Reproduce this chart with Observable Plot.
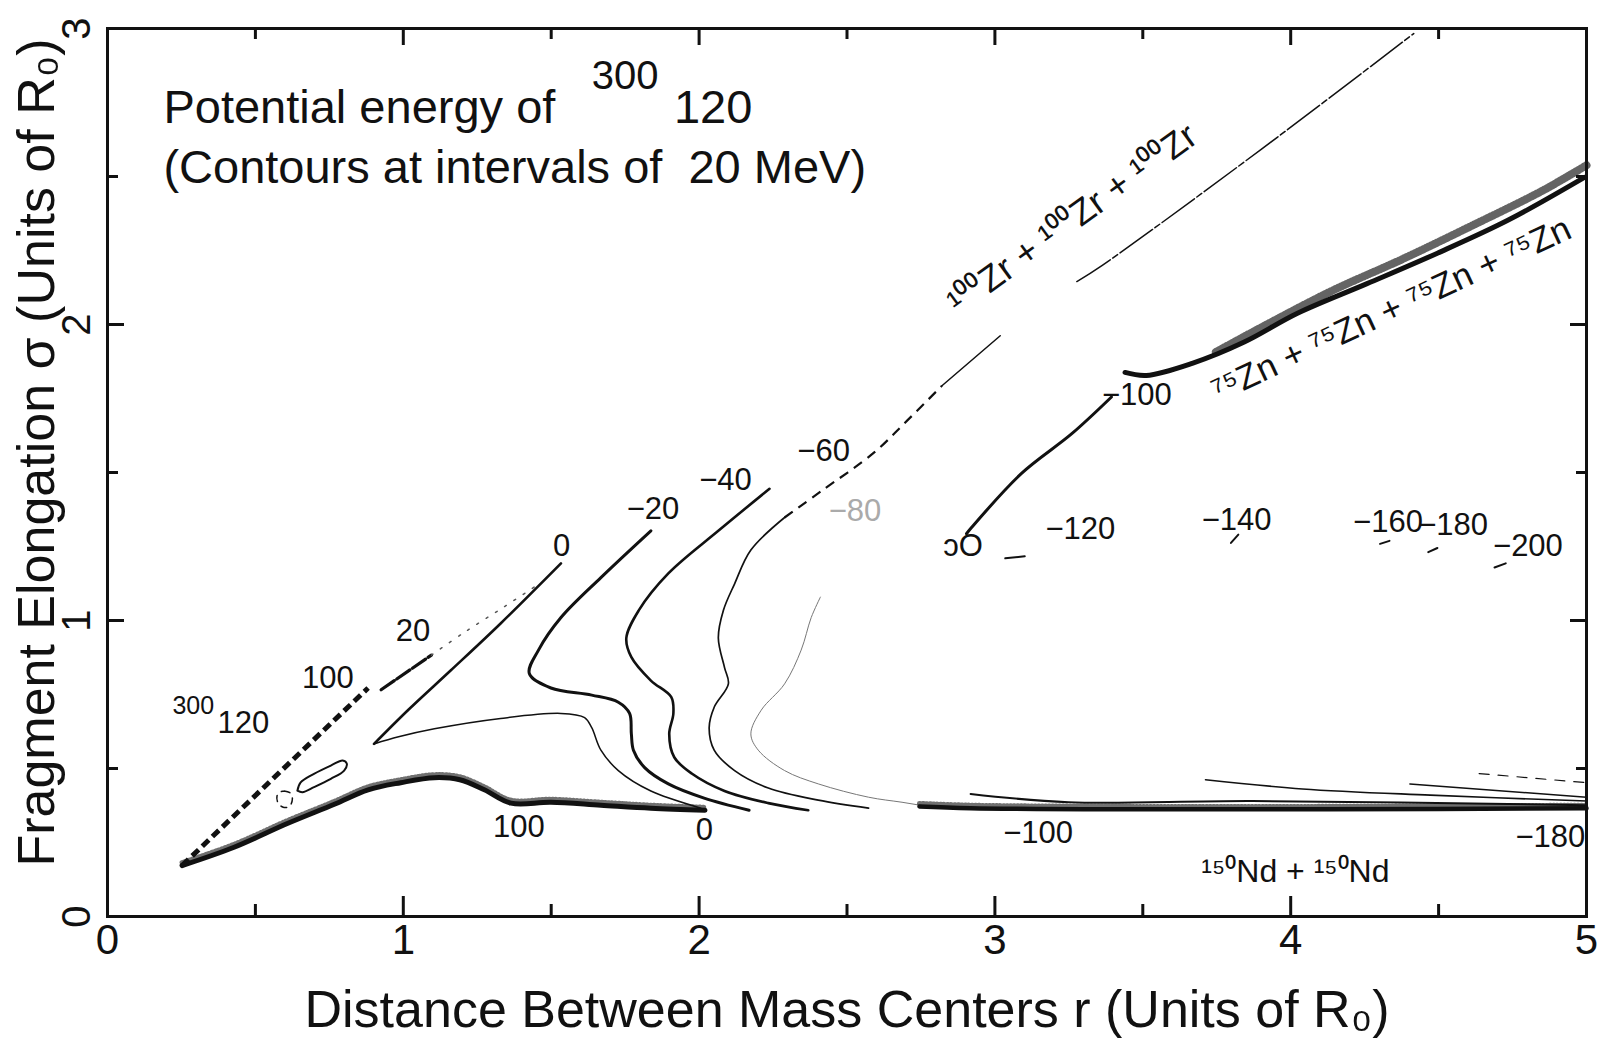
<!DOCTYPE html>
<html>
<head>
<meta charset="utf-8">
<script src="https://cdn.jsdelivr.net/npm/d3@7"></script>
<script src="https://cdn.jsdelivr.net/npm/@observablehq/plot@0.6"></script>
<style>
html, body { margin: 0; padding: 0; background: #fff; }
#chart svg { display: block; }
</style>
</head>
<body>
<div id="chart"></div>
<script>
// ---- axes ----
const xMajorTicks = [0, 1, 2, 3, 4, 5];
const xMinorTicks = [0.5, 1.5, 2.5, 3.5, 4.5];
const yMajorTicks = [0, 1, 2, 3];
const yMinorTicks = [0.5, 1.5, 2.5];
const xTitle = "Distance Between Mass Centers r (Units of R\u2080)";
const yTitle = "Fragment Elongation \u03c3 (Units of R\u2080)";

// ---- contour lines, [r, sigma] ----
const boundaryLower = [[0.252,0.172],[0.428,0.234],[0.608,0.314],[0.767,0.379],[0.881,0.428],[0.991,0.452],[1.105,0.469],[1.191,0.462],[1.274,0.428],[1.364,0.383],[1.499,0.386],[1.668,0.376],[1.837,0.366],[2.020,0.359]];
const contour100Dashed = [[0.252,0.172],[0.566,0.472],[0.881,0.772]];
const contour20 = [[0.925,0.766],[1.095,0.883]];
const contour20Faint = [[1.095,0.883],[1.205,0.959],[1.339,1.045],[1.464,1.127]];
const innerLoop = [[0.642,0.425],[0.653,0.453],[0.698,0.482],[0.755,0.510],[0.795,0.527],[0.809,0.516],[0.800,0.493],[0.755,0.465],[0.698,0.437],[0.659,0.420],[0.642,0.425]];
const smallLoop = [[0.597,0.424],[0.618,0.417],[0.625,0.397],[0.615,0.372],[0.594,0.369],[0.577,0.383],[0.573,0.407],[0.584,0.421],[0.597,0.424]];
const contour0Upper = [[1.533,1.193],[1.329,0.990],[1.160,0.831],[1.019,0.700],[0.901,0.583]];
const contour0Lower = [[0.901,0.583],[0.984,0.607],[1.105,0.634],[1.329,0.669],[1.533,0.686],[1.613,0.672],[1.637,0.638],[1.668,0.562],[1.727,0.493],[1.837,0.424],[2.006,0.366]];
const contourM20 = [[1.837,1.303],[1.668,1.145],[1.533,1.010],[1.457,0.900],[1.426,0.821],[1.499,0.772],[1.637,0.748],[1.727,0.724],[1.765,0.686],[1.771,0.617],[1.778,0.562],[1.816,0.503],[1.896,0.448],[2.017,0.400],[2.169,0.359]];
const contourM40 = [[2.238,1.445],[2.065,1.303],[1.896,1.159],[1.796,1.034],[1.754,0.941],[1.771,0.876],[1.837,0.797],[1.906,0.741],[1.913,0.686],[1.899,0.617],[1.916,0.538],[1.975,0.483],[2.086,0.424],[2.234,0.383],[2.369,0.359]];
const contourM60 = [[2.289,1.348],[2.175,1.238],[2.120,1.124],[2.082,1.034],[2.065,0.941],[2.086,0.841],[2.099,0.786],[2.051,0.707],[2.034,0.638],[2.051,0.562],[2.120,0.493],[2.234,0.434],[2.403,0.393],[2.573,0.366]];
const contourM60Dashed = [[2.289,1.348],[2.414,1.438],[2.590,1.566],[2.704,1.676],[2.821,1.793]];
const contourM80 = [[2.410,1.079],[2.379,1.010],[2.345,0.900],[2.289,0.786],[2.210,0.697],[2.175,0.617],[2.200,0.562],[2.289,0.493],[2.403,0.448],[2.573,0.403],[2.686,0.386],[2.797,0.369],[2.911,0.362]];
const contourM100 = [[2.904,1.293],[2.921,1.314],[3.090,1.497],[3.260,1.631],[3.394,1.755]];
const zrValleyA = [[2.821,1.793],[3.018,1.962]];
const zrValleyB = [[3.277,2.145],[3.363,2.200],[3.898,2.590],[4.416,2.983]];
const znValley = [[3.440,1.838],[3.512,1.828],[3.667,1.869],[3.843,1.941],[4.023,2.038],[4.258,2.138],[4.496,2.241],[4.734,2.352],[4.993,2.497]];
const znValleyShade = [[3.747,1.907],[3.919,2.000],[4.140,2.114],[4.378,2.221],[4.613,2.334],[4.851,2.452],[5.000,2.538]];
const ndValleyMain = [[2.745,0.372],[2.918,0.366],[3.436,0.362],[4.126,0.362],[5.000,0.366]];
const ndValley2 = [[2.918,0.414],[3.249,0.386],[3.871,0.390],[5.000,0.376]];
const ndValley3 = [[3.712,0.462],[4.040,0.431],[4.472,0.410],[5.000,0.390]];
const ndValley4 = [[4.403,0.448],[5.000,0.403]];
const ndValley5 = [[4.637,0.483],[5.000,0.452]];
const fadedBits = [
  {g:"m120", r:3.035, s:1.210}, {g:"m120", r:3.101, s:1.217},
  {g:"m140", r:3.798, s:1.262}, {g:"m140", r:3.823, s:1.290},
  {g:"m160", r:4.302, s:1.259}, {g:"m160", r:4.334, s:1.269},
  {g:"m180", r:4.465, s:1.231}, {g:"m180", r:4.496, s:1.245},
  {g:"m200", r:4.689, s:1.179}, {g:"m200", r:4.727, s:1.193}
];

// ---- labels ----
const levelLabels = [
  {text:"20", r:1.033, s:0.963},
  {text:"100", r:0.745, s:0.806},
  {text:"0", r:1.535, s:1.250},
  {text:"\u221220", r:1.844, s:1.378},
  {text:"\u221240", r:2.089, s:1.476},
  {text:"\u221260", r:2.421, s:1.571},
  {text:"\u2212100", r:3.480, s:1.760},
  {text:"\u2212120", r:3.289, s:1.309},
  {text:"\u2212140", r:3.817, s:1.338},
  {text:"\u2212160", r:4.329, s:1.333},
  {text:"\u2212180", r:4.549, s:1.324},
  {text:"\u2212200", r:4.802, s:1.253},
  {text:"100", r:1.391, s:0.302},
  {text:"0", r:2.018, s:0.291},
  {text:"\u2212100", r:3.146, s:0.282},
  {text:"\u2212180", r:4.878, s:0.267},
  {text:"\u0254O", r:2.892, s:1.253}
];
const fadedLabels = [{text:"\u221280", r:2.527, s:1.368}];
const titleLines = [
  {text:"Potential energy of", r:0.189, s:2.733},
  {text:"(Contours at intervals of  20 MeV)", r:0.189, s:2.530}
];
const titleMass = [{text:"300", r:1.750, s:2.838}];
const titleCharge = [{text:"120", r:1.915, s:2.730}];
const tipMass = [{text:"300", r:0.290, s:0.712}];
const tipCharge = [{text:"120", r:0.372, s:0.652}];
const zrLabel = [{text:"\u00b9\u2070\u2070Zr + \u00b9\u2070\u2070Zr + \u00b9\u2070\u2070Zr", r:3.262, s:2.355}];
const znLabel = [{text:"\u2077\u2075Zn + \u2077\u2075Zn + \u2077\u2075Zn + \u2077\u2075Zn", r:4.340, s:2.050}];
const ndLabel = [{text:"\u00b9\u2075\u2070Nd + \u00b9\u2075\u2070Nd", r:4.016, s:0.152}];

const ink = "#111";
const P = (data, o = {}) => Plot.line(data, {x: d => d[0], y: d => d[1], stroke: ink, curve: "catmull-rom", strokeLinecap: "round", ...o});

const chart = Plot.plot({
  width: 1599,
  height: 1049,
  marginLeft: 107,
  marginRight: 13,
  marginTop: 28,
  marginBottom: 133,
  x: {domain: [0, 5], axis: null},
  y: {domain: [0, 3], axis: null},
  style: {fontFamily: "'Liberation Sans', Arial, sans-serif", color: ink, background: "#fff"},
  marks: [
    // contours
    P(boundaryLower, {strokeWidth: 5, strokeOpacity: 0.6, dy: -3, strokeDasharray: "1,2.5"}),
    P(boundaryLower, {strokeWidth: 5}),
    P(contour100Dashed, {strokeWidth: 5, strokeDasharray: "9,5", curve: "linear", strokeLinecap: "butt"}),
    P(contour20, {strokeWidth: 3.2, strokeDasharray: "16,3", curve: "linear"}),
    P(contour20Faint, {strokeWidth: 1.5, strokeDasharray: "2,9", stroke: "#555"}),
    P(innerLoop, {strokeWidth: 2}),
    P(smallLoop, {strokeWidth: 1.5, strokeDasharray: "6,6"}),
    P(contour0Upper, {strokeWidth: 2.6}),
    P(contour0Lower, {strokeWidth: 1.5}),
    P(contourM20, {strokeWidth: 3}),
    P(contourM40, {strokeWidth: 2.6}),
    P(contourM60, {strokeWidth: 1.7}),
    P(contourM60Dashed, {strokeWidth: 2.2, strokeDasharray: "10,7", strokeLinecap: "butt"}),
    P(contourM80, {strokeWidth: 1, stroke: "#777"}),
    P(contourM100, {strokeWidth: 3}),
    P(zrValleyA, {strokeWidth: 1.5, curve: "linear"}),
    P(zrValleyB, {strokeWidth: 1.5, strokeDasharray: "40,3,6,3"}),
    P(znValleyShade, {strokeWidth: 8, stroke: ink, strokeOpacity: 0.65, strokeDasharray: "1.5,1.5"}),
    P(znValley, {strokeWidth: 5}),
    P(ndValley5, {strokeWidth: 1.2, strokeDasharray: "10,9", curve: "linear"}),
    P(ndValley4, {strokeWidth: 1.5, curve: "linear"}),
    P(ndValley3, {strokeWidth: 1.6}),
    P(ndValley2, {strokeWidth: 2}),
    P(ndValleyMain, {strokeWidth: 5, strokeOpacity: 0.6, dy: -3, strokeDasharray: "1,2.5"}),
    P(ndValleyMain, {strokeWidth: 4.5}),
    Plot.line(fadedBits, {x: "r", y: "s", z: "g", stroke: ink, strokeWidth: 2}),

    // frame and inward ticks
    Plot.frame({stroke: ink, strokeWidth: 3}),
    Plot.axisX(xMajorTicks, {anchor: "bottom", tickSize: -20, strokeWidth: 3, stroke: ink, tickFormat: () => "", label: null}),
    Plot.axisX(xMinorTicks, {anchor: "bottom", tickSize: -12, strokeWidth: 3, stroke: ink, tickFormat: () => "", label: null}),
    Plot.axisX(xMajorTicks, {anchor: "top", tickSize: -16, strokeWidth: 3, stroke: ink, tickFormat: () => "", label: null}),
    Plot.axisX(xMinorTicks, {anchor: "top", tickSize: -10, strokeWidth: 3, stroke: ink, tickFormat: () => "", label: null}),
    Plot.axisY(yMajorTicks, {anchor: "left", tickSize: -17, strokeWidth: 3, stroke: ink, tickFormat: () => "", label: null}),
    Plot.axisY(yMinorTicks, {anchor: "left", tickSize: -11, strokeWidth: 3, stroke: ink, tickFormat: () => "", label: null}),
    Plot.axisY(yMajorTicks, {anchor: "right", tickSize: -17, strokeWidth: 3, stroke: ink, tickFormat: () => "", label: null}),
    Plot.axisY(yMinorTicks, {anchor: "right", tickSize: -11, strokeWidth: 3, stroke: ink, tickFormat: () => "", label: null}),

    // tick labels
    Plot.text(xMajorTicks, {x: d => d, frameAnchor: "bottom", lineAnchor: "middle", textAnchor: "middle", dy: 24, text: d => String(d), fontSize: 42, fill: ink}),
    Plot.text(yMajorTicks, {y: d => d, frameAnchor: "left", textAnchor: "middle", lineAnchor: "middle", dx: -30, rotate: -90, text: d => String(d), fontSize: 40, fill: ink}),

    // axis titles
    Plot.text([xTitle], {frameAnchor: "bottom", lineAnchor: "middle", textAnchor: "middle", dy: 94, text: d => d, fontSize: 52, fill: ink}),
    Plot.text([yTitle], {frameAnchor: "left", textAnchor: "middle", lineAnchor: "middle", dx: -70, dy: -20, rotate: -90, text: d => d, fontSize: 52, fill: ink}),

    // in-plot text
    Plot.text(titleLines, {x: "r", y: "s", text: "text", textAnchor: "start", fontSize: 47, fill: ink}),
    Plot.text(titleMass, {x: "r", y: "s", text: "text", fontSize: 40, fill: ink}),
    Plot.text(titleCharge, {x: "r", y: "s", text: "text", textAnchor: "start", fontSize: 47, fill: ink}),
    Plot.text(tipMass, {x: "r", y: "s", text: "text", fontSize: 25, fill: ink}),
    Plot.text(tipCharge, {x: "r", y: "s", text: "text", textAnchor: "start", fontSize: 31, fill: ink}),
    Plot.text(levelLabels, {x: "r", y: "s", text: "text", fontSize: 31, fill: ink}),
    Plot.text(fadedLabels, {x: "r", y: "s", text: "text", fontSize: 31, fill: "#aaa"}),
    Plot.text(zrLabel, {x: "r", y: "s", text: "text", rotate: -36, fontSize: 36, fill: ink}),
    Plot.text(znLabel, {x: "r", y: "s", text: "text", rotate: -25, fontSize: 35, fill: ink}),
    Plot.text(ndLabel, {x: "r", y: "s", text: "text", fontSize: 32, fill: ink})
  ]
});
document.getElementById("chart").appendChild(chart);
</script>
</body>
</html>
